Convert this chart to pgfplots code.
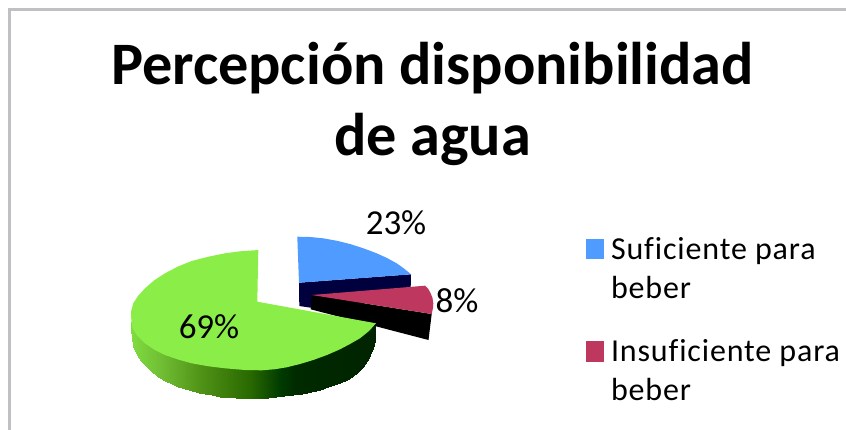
\documentclass[border=0pt]{standalone}
\usepackage{fontspec}
\setmainfont{Carlito}
\usepackage{pgfplots}
\pgfplotsset{compat=1.18}
\definecolor{cblue}{RGB}{80,155,255}
\definecolor{cnavy}{RGB}{0,0,62}
\definecolor{cred}{RGB}{190,55,95}
\definecolor{cgreen}{RGB}{139,238,72}
\definecolor{cframe}{RGB}{192,192,196}
\newfontfamily\legfont[LetterSpace=2.7,RawFeature=-liga]{Carlito}
\begin{document}
\begin{tikzpicture}
\begin{axis}[
  scale only axis, width=846pt, height=429pt,
  xmin=0, xmax=846, ymin=0, ymax=429, y dir=reverse,
  hide axis, clip=true,
  axis background/.style={fill=white},
  colormap={side}{rgb255(0pt)=(128,220,64) rgb255(30pt)=(112,190,52) rgb255(70pt)=(80,146,22) rgb255(120pt)=(40,104,0) rgb255(150pt)=(0,58,0) rgb255(165pt)=(0,42,0) rgb255(245pt)=(0,36,0)},
  point meta min=131, point meta max=376,
  legend style={at={(axis cs:586,235)}, anchor=north west, draw=none, fill=none,
    inner sep=0pt, outer sep=0pt, row sep=75pt,
    column sep=5pt, cells={anchor=base west}},
  legend image code/.code={\fill[#1,draw=none] (0pt,0pt) rectangle (18pt,20.5pt);},
]
\addplot[cframe, line width=3pt, forget plot] coordinates {(9.5,430)(9.5,9.5)(847,9.5)};
% blue slice
\addplot[fill=cnavy, draw=none, forget plot] coordinates {(299,282.7)(411,274.3)(410.7,287)(340,312)(299.3,306)} --cycle;
\addplot[fill=cblue, draw=none] coordinates {(299,282.7)(297.3,236.7)(310,237)(323.3,238.3)(337,240.8)(350,244)(364,248.5)(376.7,253.3)(387,258)(396.7,263.3)(404,268.5)(411,274.3)} --cycle;
\addlegendentry{\parbox[t]{233pt}{\raggedright\fontsize{32}{39}\legfont Suficiente para\\beber}}
% red slice
\addplot[fill=black, draw=none, forget plot] coordinates {(311.7,295)(431.7,314)(428.5,340)(310.7,309.3)} --cycle;
\addplot[fill=cred, draw=none] coordinates {(311.7,295)(425,285.7)(428,288.5)(430.5,293)(432.5,298)(433.3,303.3)(433,308)(431.7,314)} --cycle;
\addlegendentry{\parbox[t]{233pt}{\raggedright\fontsize{32}{39}\legfont Insuficiente para\\beber}}
% green side
\addplot[surf, shader=interp, mesh/rows=2, mesh/ordering=x varies, point meta=x, forget plot] table {
x y
131.5 322
133 322
137 322
141 322
145 322
151 322
158 322
165 322
172 322
178 322
185 322
192 322
199 322
205 322
212 322
220 322
228 322
236 322
244 322
252 322
260 322
268 322
276 322
284 322
293 322
302 322
311 322
320 322
328 322
337 322
346.7 322
353 322
358 322
363 322
367 322
370 322
373 325
374.5 326
375.5 327

131.5 330
133 346
137 355
141 361
145 365
151 371
158 376.7
165 380.5
172 384
178 386.7
185 389
192 391
199 393
205 394
212 395
220 396.5
228 397.4
236 398
244 398.3
252 398.4
260 398.3
268 398
276 397
284 396
293 395
302 393.5
311 392
320 390
328 387
337 384
346.7 380
353 375.5
358 371.5
363 367
367 361
370 355
373 348
374.5 340
375.5 331
};
% green top
\addplot[fill=cgreen, draw=none, forget plot] coordinates {(257.3,301.7)(258.3,250)(255.7,250.2)(240,251.3)(225,253.3)(208,256.8)(191.7,261)(178,266.5)(165,273.3)(154,280.5)(145,288.3)(138,296)(133.3,303.3)(131,311.7)(131.3,320)(132.5,328)(137,335.5)(145,343.3)(154,349.5)(165,355)(178,359.5)(191.7,363.3)(208,366.2)(225,368.3)(245,370)(262,370.3)(275,369.2)(286.7,367.3)(300,364)(313.3,360)(327,355)(340,349.3)(350,344)(360,338.3)(369,331)(376,323.3)} --cycle;
\node[font=\fontsize{35}{35}\selectfont, inner sep=0pt] at (axis cs:396,223) {23\%};
\node[font=\fontsize{35}{35}\selectfont, inner sep=0pt] at (axis cs:457,301) {8\%};
\node[font=\fontsize{35}{35}\selectfont, inner sep=0pt] at (axis cs:209,327) {69\%};
\node[font=\bfseries\fontsize{60.3}{71}\selectfont, align=center, inner sep=0pt] at (axis cs:432.5,103.5) {Percepción disponibilidad\\de agua};
\end{axis}
\end{tikzpicture}
\end{document}
